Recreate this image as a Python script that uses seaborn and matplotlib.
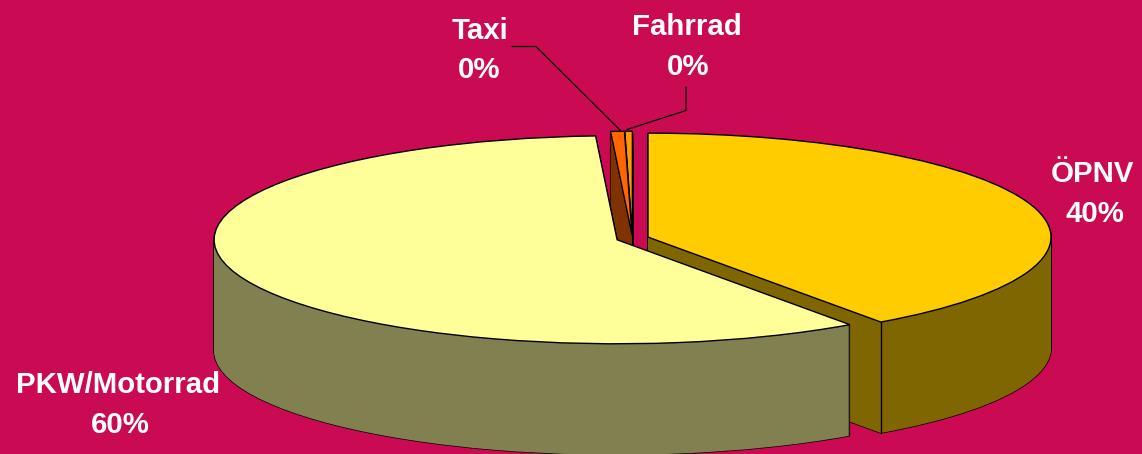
import matplotlib.pyplot as plt
import numpy as np
import seaborn as sns

categories = ['ÖPNV', 'PKW/Motorrad', 'Taxi', 'Fahrrad']
shares = [40.2, 58.95, 0.55, 0.3]
top_colors = ['#FFCC00', '#FFFF99', '#FF6600', '#FF9900']
side_colors = ['#806600', '#808050', '#803300', '#804C00']
explode = [0.0404, 0.0404, 0.03, 0.03]
# draw order, back to front
stack_rank = [0, 3, 2, 1]

W, H = 1142, 454
BG = '#CB0A54'
CX, CY = 632.5, 238.4    # pie centre in pixels
RX, RY = 403, 104        # ellipse radii in pixels
DEPTH = 111


def px(x):
    return (x - CX) / RX


def py(y):
    return (CY - y) / RY


sns.set_theme(style='white', rc={'figure.facecolor': BG, 'axes.facecolor': BG})
plt.rcParams['font.family'] = ['Liberation Sans', 'DejaVu Sans']

fig = plt.figure(figsize=(W / 100, H / 100), dpi=100)
ax = fig.add_axes([0, 0, 1, 1])


def pie_layer(offset, colors, layer, **wedgeprops):
    wedges, _ = ax.pie(shares, explode=explode, colors=colors, startangle=90,
                       counterclock=False, center=(0, -offset / RY),
                       wedgeprops=wedgeprops)
    for w, rank in zip(wedges, stack_rank):
        w.set_zorder(10 + rank * 10 + layer)
    return wedges


# extruded walls: black silhouette first, fill on top, then the outlined face
for d in range(DEPTH, 0, -1):
    pie_layer(d, ['black'] * 4, 0, edgecolor='black', linewidth=1.0)
    pie_layer(d, side_colors, 1, edgecolor='none', linewidth=0)
top = pie_layer(0, top_colors, 2, edgecolor='black', linewidth=1.0)

# fold line where the cut face of the first slice meets its curved wall
w = top[0]
cx = w.center[0] + np.cos(np.radians(w.theta1))
cy = w.center[1] + np.sin(np.radians(w.theta1))
ax.plot([cx, cx], [cy, cy - DEPTH / RY], color='black', lw=1.0,
        zorder=w.get_zorder() - 1)

# pie() forces equal aspect and its own limits, so put ours back
ax.set_aspect('auto')
ax.set_xlim(px(0), px(W))
ax.set_ylim(py(H), py(0))
ax.axis('off')

# leader lines
ax.plot([px(512), px(536), px(620)], [py(46.5), py(46.5), py(130)],
        color='black', lw=0.9, zorder=60)
ax.plot([px(686), px(686), px(627)], [py(87), py(110.5), py(129.5)],
        color='black', lw=0.9, zorder=60)

# text, centre x and baseline y in pixels
labels = [
    ('ÖPNV', 1092, 182), ('40%', 1094.5, 222),
    ('PKW/Motorrad', 118, 393), ('60%', 120, 433),
    ('Taxi', 479.5, 39), ('0%', 479.5, 78),
    ('Fahrrad', 687, 35), ('0%', 688, 75),
]
for txt, x, y in labels:
    ax.text(px(x), py(y), txt, color='white', fontsize=21.2, fontweight='bold',
            ha='center', va='baseline', zorder=70)

fig.savefig('out.png', dpi=100, facecolor=BG)
